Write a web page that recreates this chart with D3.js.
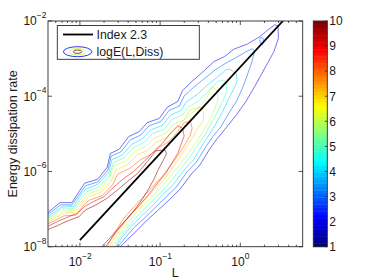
<!DOCTYPE html>
<html><head><meta charset="utf-8">
<script src="https://cdn.jsdelivr.net/npm/d3@7/dist/d3.min.js"></script>
<style>
body{margin:0;background:#fff}
text{font-family:"Liberation Sans",Arial,Helvetica,sans-serif;fill:#1a1a1a}
</style>
</head><body>
<svg id="chart" width="374" height="280"></svg>
<script>
// ---------- data ----------
const xDomain = [0.004, 6];
const yDomain = [1e-8, 1e-2];
const xTicks = [0.01, 0.1, 1];
const xMinorTicks = [0.005,0.006,0.007,0.008,0.009,0.02,0.03,0.04,0.05,0.06,0.07,0.08,0.09,0.2,0.3,0.4,0.5,0.6,0.7,0.8,0.9,2,3,4,5];
const yTicks = [1e-8, 1e-6, 1e-4, 1e-2];
const cbarTicks = [1,2,3,4,5,6,7,8,9,10];
const cbarRange = [1, 10];
const levels = [2,3,4,5,6,7,8,9,10];
const legendLabels = ["Index 2.3", "logE(L,Diss)"];
const xLabel = "L";
const yLabel = "Energy dissipation rate";
// fitted power law (Index 2.3): [L, rate] end points
const fitLine = [[0.01, 1.5e-8], [3.4, 1.0e-2]];

// contour paths, points are [log10 L, log10 rate]
const logE2 = [[-2.45,-7.18],[-2.41,-7.11],[-2.25,-6.83],[-2.10,-6.83],[-1.99,-6.47],[-1.94,-6.31],[-1.78,-6.21],[-1.66,-5.89],[-1.62,-5.52],[-1.51,-5.41],[-1.39,-5.07],[-1.26,-4.94],[-1.16,-4.70],[-1.01,-4.59],[-0.91,-4.29],[-0.78,-4.14],[-0.72,-3.85],[-0.62,-3.64],[-0.45,-3.32],[-0.33,-3.08],[-0.20,-2.95],[-0.08,-2.75],[0.09,-2.61],[0.24,-2.42],[0.34,-2.24],[0.43,-2.10],[0.47,-2.13],[0.475,-2.46],[0.42,-2.81],[0.34,-3.12],[0.26,-3.43],[0.18,-3.74],[0.07,-4.14],[-0.05,-4.50],[-0.20,-4.90],[-0.30,-5.16],[-0.39,-5.43],[-0.51,-5.85],[-0.61,-6.07],[-0.76,-6.49],[-0.89,-6.76],[-1.03,-7.04],[-1.16,-7.29],[-1.28,-7.55],[-1.41,-7.82],[-1.51,-8.03],[-1.55,-8.17]];
const logE3 = [[-2.45,-7.25],[-2.41,-7.16],[-2.24,-6.89],[-2.10,-6.89],[-1.98,-6.53],[-1.93,-6.38],[-1.78,-6.28],[-1.65,-5.96],[-1.61,-5.59],[-1.49,-5.48],[-1.37,-5.16],[-1.24,-5.03],[-1.14,-4.79],[-0.99,-4.67],[-0.89,-4.38],[-0.76,-4.26],[-0.70,-3.99],[-0.58,-3.76],[-0.43,-3.50],[-0.30,-3.28],[-0.18,-3.12],[-0.05,-2.97],[0.07,-2.82],[0.15,-2.74],[0.18,-2.79],[0.14,-3.12],[0.08,-3.48],[0.02,-3.82],[-0.05,-4.14],[-0.14,-4.44],[-0.24,-4.81],[-0.35,-5.09],[-0.44,-5.38],[-0.55,-5.76],[-0.66,-6.00],[-0.80,-6.42],[-0.93,-6.69],[-1.07,-6.98],[-1.19,-7.23],[-1.32,-7.48],[-1.43,-7.75],[-1.54,-8.03],[-1.58,-8.17]];
const logE3b = [[0.242,-2.49],[0.258,-2.43],[0.283,-2.46],[0.292,-2.55],[0.275,-2.63],[0.25,-2.59],[0.242,-2.49]];
const logE4 = [[-2.45,-7.32],[-2.41,-7.22],[-2.23,-6.95],[-2.08,-6.93],[-1.98,-6.60],[-1.92,-6.46],[-1.78,-6.35],[-1.64,-6.03],[-1.60,-5.68],[-1.47,-5.56],[-1.35,-5.27],[-1.22,-5.13],[-1.12,-4.90],[-0.97,-4.77],[-0.87,-4.50],[-0.74,-4.38],[-0.67,-4.14],[-0.53,-3.94],[-0.41,-3.70],[-0.28,-3.48],[-0.18,-3.30],[-0.13,-3.28],[-0.05,-3.41],[-0.04,-3.61],[-0.10,-3.88],[-0.16,-4.14],[-0.23,-4.45],[-0.30,-4.72],[-0.39,-5.03],[-0.48,-5.32],[-0.58,-5.68],[-0.70,-5.96],[-0.84,-6.36],[-0.97,-6.62],[-1.10,-6.92],[-1.23,-7.18],[-1.35,-7.43],[-1.46,-7.71],[-1.56,-8.03],[-1.60,-8.17]];
const logE5 = [[-2.45,-7.38],[-2.41,-7.27],[-2.23,-7.00],[-2.08,-6.99],[-1.97,-6.67],[-1.91,-6.53],[-1.77,-6.42],[-1.63,-6.10],[-1.58,-5.76],[-1.45,-5.64],[-1.33,-5.36],[-1.20,-5.23],[-1.10,-5.00],[-0.95,-4.88],[-0.85,-4.61],[-0.72,-4.50],[-0.64,-4.29],[-0.51,-4.10],[-0.39,-3.85],[-0.28,-3.61],[-0.21,-3.57],[-0.17,-3.67],[-0.17,-3.88],[-0.22,-4.14],[-0.29,-4.44],[-0.37,-4.74],[-0.44,-5.03],[-0.53,-5.30],[-0.63,-5.62],[-0.74,-5.92],[-0.88,-6.30],[-1.00,-6.58],[-1.14,-6.87],[-1.26,-7.14],[-1.37,-7.39],[-1.48,-7.69],[-1.58,-8.03],[-1.62,-8.17]];
const logE6 = [[-2.45,-7.42],[-2.41,-7.31],[-2.22,-7.06],[-2.07,-7.04],[-1.96,-6.73],[-1.90,-6.60],[-1.76,-6.49],[-1.63,-6.18],[-1.58,-5.85],[-1.43,-5.73],[-1.30,-5.45],[-1.18,-5.34],[-1.08,-5.12],[-0.93,-4.99],[-0.83,-4.74],[-0.70,-4.63],[-0.60,-4.44],[-0.47,-4.21],[-0.41,-4.01],[-0.35,-3.74],[-0.29,-3.85],[-0.28,-4.10],[-0.32,-4.35],[-0.38,-4.63],[-0.46,-4.92],[-0.54,-5.21],[-0.64,-5.50],[-0.75,-5.80],[-0.91,-6.23],[-1.03,-6.52],[-1.17,-6.81],[-1.29,-7.08],[-1.40,-7.35],[-1.50,-7.66],[-1.61,-8.03],[-1.64,-8.17]];
const logE7 = [[-2.45,-7.47],[-2.41,-7.36],[-2.21,-7.11],[-2.06,-7.09],[-1.95,-6.79],[-1.89,-6.67],[-1.74,-6.56],[-1.61,-6.26],[-1.55,-5.96],[-1.41,-5.82],[-1.28,-5.55],[-1.16,-5.45],[-1.05,-5.23],[-0.91,-5.09],[-0.80,-4.85],[-0.70,-4.63],[-0.62,-4.35],[-0.48,-4.29],[-0.46,-4.45],[-0.46,-4.65],[-0.53,-4.85],[-0.59,-5.09],[-0.67,-5.34],[-0.75,-5.61],[-0.85,-5.92],[-0.95,-6.21],[-1.07,-6.47],[-1.19,-6.76],[-1.31,-7.02],[-1.42,-7.29],[-1.52,-7.62],[-1.64,-8.03],[-1.67,-8.17]];
const logE8 = [[-2.45,-7.53],[-2.41,-7.41],[-2.20,-7.18],[-2.05,-7.16],[-1.94,-6.86],[-1.88,-6.76],[-1.72,-6.64],[-1.59,-6.35],[-1.53,-6.07],[-1.38,-5.92],[-1.24,-5.68],[-1.12,-5.56],[-1.01,-5.36],[-0.89,-5.21],[-0.78,-4.94],[-0.70,-4.70],[-0.62,-4.67],[-0.60,-4.85],[-0.63,-5.07],[-0.70,-5.32],[-0.78,-5.59],[-0.88,-5.87],[-0.98,-6.15],[-1.10,-6.42],[-1.22,-6.70],[-1.34,-6.97],[-1.45,-7.24],[-1.55,-7.57],[-1.67,-8.03],[-1.70,-8.17]];
const logE9 = [[-2.45,-7.59],[-2.41,-7.47],[-2.28,-7.33],[-2.16,-7.22],[-2.03,-7.11],[-1.94,-6.93],[-1.83,-6.80],[-1.70,-6.67],[-1.58,-6.42],[-1.45,-6.18],[-1.33,-6.00],[-1.20,-5.74],[-1.08,-5.47],[-0.97,-5.25],[-0.87,-4.98],[-0.78,-4.79],[-0.72,-4.85],[-0.70,-5.06],[-0.74,-5.29],[-0.78,-5.52],[-0.85,-5.76],[-0.93,-6.05],[-1.03,-6.31],[-1.14,-6.60],[-1.25,-6.88],[-1.37,-7.16],[-1.48,-7.43],[-1.59,-7.73],[-1.69,-8.03],[-1.72,-8.17]];
const logE10 = [[-2.45,-7.69],[-2.41,-7.55],[-2.28,-7.44],[-2.16,-7.32],[-2.01,-7.20],[-1.93,-7.02],[-1.80,-6.89],[-1.66,-6.71],[-1.53,-6.49],[-1.41,-6.27],[-1.28,-6.05],[-1.16,-5.74],[-1.05,-5.45],[-0.94,-5.43],[-0.92,-5.53],[-0.97,-5.74],[-1.03,-5.98],[-1.08,-6.22],[-1.15,-6.49],[-1.23,-6.76],[-1.32,-7.02],[-1.42,-7.27],[-1.53,-7.54],[-1.64,-7.80],[-1.74,-8.03],[-1.77,-8.17]];

const contourPaths = [[logE2],[logE3,logE3b],[logE4],[logE5],[logE6],[logE7],[logE8],[logE9],[logE10]];

// ---------- drawing ----------
const svg = d3.select("#chart");
const box = {l:48, r:302.7, t:21, b:246.7};
const x = d3.scaleLog().domain(xDomain).range([box.l, box.r]);
const y = d3.scaleLog().domain(yDomain).range([box.b, box.t]);
const cb = {l:313.3, r:327.3};
const cy = d3.scaleLinear().domain(cbarRange).range([box.b, box.t]);

function jet(t){
  const f = v => Math.max(0, Math.min(1, v));
  return d3.rgb(255*f(1.5-Math.abs(4*t-3)), 255*f(1.5-Math.abs(4*t-2)), 255*f(1.5-Math.abs(4*t-1))).formatHex();
}
const levelColor = lv => jet((lv - cbarRange[0])/(cbarRange[1]-cbarRange[0]));

svg.append("rect").attr("x",0).attr("y",0).attr("width",374).attr("height",280).attr("fill","#fff");

svg.append("clipPath").attr("id","clip").append("rect")
  .attr("x",box.l).attr("y",box.t).attr("width",box.r-box.l).attr("height",box.b-box.t);

const plot = svg.append("g").attr("clip-path","url(#clip)");
const line = d3.line().x(d => x(Math.pow(10,d[0]))).y(d => y(Math.pow(10,d[1])));

levels.forEach((lv,i) => {
  contourPaths[i].forEach(p => {
    plot.append("path").attr("d", line(p)).attr("fill","none")
      .attr("stroke", levelColor(lv)).attr("stroke-width",0.65).attr("stroke-opacity",0.85)
      .attr("stroke-linejoin","round");
  });
});

plot.append("path")
  .attr("d", d3.line().x(d=>x(d[0])).y(d=>y(d[1]))(fitLine))
  .attr("stroke","#000").attr("stroke-width",1.8).attr("fill","none");

// axes box
const axisCol = "#2a2a2a";
svg.append("rect").attr("x",box.l).attr("y",box.t).attr("width",box.r-box.l).attr("height",box.b-box.t)
  .attr("fill","none").attr("stroke",axisCol).attr("stroke-width",0.9);

const tk = svg.append("g").attr("stroke",axisCol).attr("stroke-width",0.8);
xTicks.forEach(v => {
  tk.append("line").attr("x1",x(v)).attr("x2",x(v)).attr("y1",box.b).attr("y2",box.b-4);
  tk.append("line").attr("x1",x(v)).attr("x2",x(v)).attr("y1",box.t).attr("y2",box.t+4);
});
xMinorTicks.forEach(v => {
  tk.append("line").attr("x1",x(v)).attr("x2",x(v)).attr("y1",box.b).attr("y2",box.b-2);
  tk.append("line").attr("x1",x(v)).attr("x2",x(v)).attr("y1",box.t).attr("y2",box.t+2);
});
yTicks.forEach(v => {
  tk.append("line").attr("x1",box.l).attr("x2",box.l+4).attr("y1",y(v)).attr("y2",y(v));
  tk.append("line").attr("x1",box.r).attr("x2",box.r-4).attr("y1",y(v)).attr("y2",y(v));
});

const expStr = v => { const e = Math.round(Math.log10(v)); return (e<0?"\u2212":"") + Math.abs(e); };

xTicks.forEach(v => {
  const cx = x(v), ex = expStr(v);
  const w = 13.3 + ex.length*4.6;
  svg.append("text").attr("x",cx - w/2).attr("y",265.5).attr("font-size",12).text("10");
  svg.append("text").attr("x",cx - w/2 + 13.4).attr("y",258.5).attr("font-size",8.5).text(ex);
});
yTicks.forEach(v => {
  const yy = y(v), ex = expStr(v);
  svg.append("text").attr("x",46.5).attr("y",yy-3).attr("font-size",8.5).attr("text-anchor","end").text(ex);
  svg.append("text").attr("x",46.5 - ex.length*4.6 - 0.5).attr("y",yy+4.3).attr("font-size",12).attr("text-anchor","end").text("10");
});

svg.append("text").attr("x",(box.l+box.r)/2).attr("y",277).attr("font-size",12.5)
  .attr("text-anchor","middle").text(xLabel);
svg.append("text").attr("transform",`translate(17,${(box.t+box.b)/2}) rotate(-90)`)
  .attr("font-size",12.5).attr("text-anchor","middle").text(yLabel);

// colorbar
const nC = 64;
const cg = svg.append("g");
for (let i=0;i<nC;i++){
  const v0 = cbarRange[0] + (cbarRange[1]-cbarRange[0])*i/nC;
  const v1 = cbarRange[0] + (cbarRange[1]-cbarRange[0])*(i+1)/nC;
  cg.append("rect").attr("x",cb.l).attr("width",cb.r-cb.l)
    .attr("y",cy(v1)).attr("height",cy(v0)-cy(v1)+0.4)
    .attr("fill", jet(i/(nC-1)));
}
svg.append("rect").attr("x",cb.l).attr("y",box.t).attr("width",cb.r-cb.l).attr("height",box.b-box.t)
  .attr("fill","none").attr("stroke",axisCol).attr("stroke-width",0.9);
cbarTicks.forEach(v => {
  svg.append("line").attr("x1",cb.r).attr("x2",cb.r-2.5).attr("y1",cy(v)).attr("y2",cy(v))
    .attr("stroke",axisCol).attr("stroke-width",0.8);
  svg.append("text").attr("x",cb.r+2).attr("y",cy(v)+4.3).attr("font-size",12).text(v);
});

// legend
const lg = svg.append("g");
lg.append("rect").attr("x",57.3).attr("y",25.5).attr("width",142).attr("height",33.8)
  .attr("fill","#fff").attr("stroke",axisCol).attr("stroke-width",0.9);
lg.append("line").attr("x1",63).attr("x2",93).attr("y1",34.5).attr("y2",34.5).attr("stroke","#000").attr("stroke-width",1.8);
lg.append("text").attr("x",96.5).attr("y",39.3).attr("font-size",12.3).text(legendLabels[0]);
[[levels[0],14.2,5],[levels[4],8.3,3.3],[levels[8],4.3,1.7]].forEach(([lv,rx,ry]) => {
  lg.append("ellipse").attr("cx",77.6).attr("cy",51.7).attr("rx",rx).attr("ry",ry)
    .attr("fill","none").attr("stroke",levelColor(lv)).attr("stroke-width",0.8);
});
lg.append("text").attr("x",96.5).attr("y",55.5).attr("font-size",12.3).text(legendLabels[1]);
</script>
</body></html>
